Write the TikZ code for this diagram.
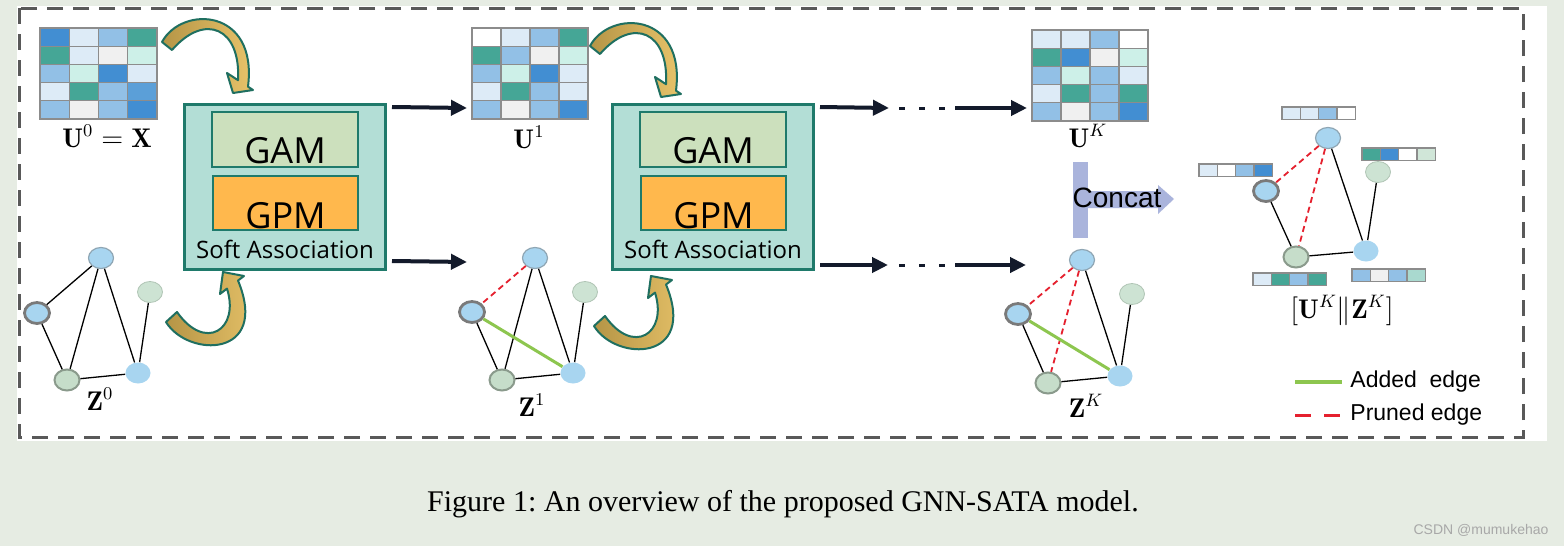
\documentclass[tikz,border=0pt]{standalone}
\usepackage{fontspec}
\usetikzlibrary{shapes.geometric,arrows.meta}
\newfontfamily\capfont{Liberation Serif}
\newfontfamily\arialfont{Liberation Sans}
\newfontfamily\safont{Open Sans}

\definecolor{bgc}{HTML}{E6ECE3}
\definecolor{framegrey}{HTML}{595959}
\definecolor{gridgrey}{HTML}{8C8C8C}
\definecolor{cdb}{HTML}{428ED2}
\definecolor{cdb2}{HTML}{5B9FD8}
\definecolor{cmb}{HTML}{92C0E6}
\definecolor{clb}{HTML}{DDEBF7}
\definecolor{ctl}{HTML}{45A696}
\definecolor{ccy}{HTML}{CDF0E8}
\definecolor{cgr}{HTML}{F0F0F0}
\definecolor{cwh}{HTML}{FFFFFF}
\definecolor{cpg}{HTML}{D0E6D8}
\definecolor{cpt}{HTML}{A9D9CF}
\definecolor{safill}{HTML}{B3DED6}
\definecolor{sateal}{HTML}{1F7A6B}
\definecolor{gamfill}{HTML}{CCE0BD}
\definecolor{gpmfill}{HTML}{FFB84D}
\definecolor{golddark}{HTML}{B59546}
\definecolor{goldlight}{HTML}{EBC66C}
\definecolor{arrowteal}{HTML}{1F6F60}
\definecolor{navy}{HTML}{131A2B}
\definecolor{concatc}{HTML}{AAB4DC}
\definecolor{nodeblue}{HTML}{A8D5F0}
\definecolor{nodeedge}{HTML}{8FA6B4}
\definecolor{boldedge}{HTML}{7A7A7A}
\definecolor{nodegreen}{HTML}{C6DDCA}
\definecolor{greenedge}{HTML}{8A9A8C}
\definecolor{nodepale}{HTML}{CDE3D3}
\definecolor{paleedge}{HTML}{AFC4B4}
\definecolor{addgreen}{HTML}{8DC64F}
\definecolor{prunered}{HTML}{E5202E}
\definecolor{wmgrey}{HTML}{A8A8A8}

\tikzset{
  cell/.style={draw=gridgrey, line width=0.6pt},
  outerframe/.style={draw=framegrey, line width=1.5pt, dash pattern=on 8pt off 5pt},
  sabox/.style={rectangle, draw=sateal, fill=safill, line width=1.5pt, minimum width=100.5pt, minimum height=82.5pt, inner sep=0},
  gambox/.style={rectangle, draw=sateal, fill=gamfill, line width=1.2pt, minimum width=73pt, inner sep=0, text height=25.5pt, text depth=2pt, font=\safont\fontsize{18}{20}\selectfont},
  gpmbox/.style={rectangle, draw=sateal, fill=gpmfill, line width=1.2pt, minimum width=72.5pt, inner sep=0, text height=26pt, text depth=1pt, font=\safont\fontsize{18}{20}\selectfont},
  satext/.style={anchor=base, inner sep=0, font=\safont\fontsize{12}{14}\selectfont},
  goldarrow/.style={draw=arrowteal, line width=1pt, line join=round, left color=golddark, right color=goldlight},
  flow/.style={draw=navy, line width=2pt, -{Triangle[length=8pt,width=7.5pt]}},
  dotsline/.style={draw=navy, line width=1.5pt, dash pattern=on 3pt off 7pt},
  gnode/.style={ellipse, minimum width=12.5pt, minimum height=10.5pt, inner sep=0},
  nblue/.style={gnode, fill=nodeblue, draw=nodeedge, line width=0.6pt},
  nbold/.style={gnode, fill=nodeblue, draw=boldedge, line width=1.4pt},
  ngreen/.style={gnode, fill=nodegreen, draw=greenedge, line width=1pt},
  nplain/.style={gnode, fill=nodeblue},
  npale/.style={gnode, fill=nodepale, draw=paleedge, line width=0.4pt},
  keptedge/.style={draw=black, line width=0.65pt},
  added/.style={draw=addgreen, line width=1.5pt},
  pruned/.style={draw=prunered, line width=0.9pt, dash pattern=on 3pt off 2pt},
  mathlbl/.style={anchor=base, inner sep=0, font=\fontsize{13.5}{16}\selectfont},
  legendtext/.style={anchor=west, inner sep=0, font=\arialfont\fontsize{11.5}{14}\selectfont},
}

\begin{document}
\begin{tikzpicture}[x=0.5pt,y=-0.5pt]
\useasboundingbox (0,0) rectangle (1564,546);
\fill[bgc] (0,0) rectangle (1564,546);
\fill[white] (17,6) rectangle (1547,441);
\draw[outerframe] (19,8) rectangle (1523,437);

% feature matrices
\foreach \cols [count=\r from 0] in {{cdb,clb,cmb,ctl},{ctl,clb,cgr,ccy},{cmb,ccy,cdb,clb},{clb,ctl,cmb,cdb2},{cmb,cgr,cmb,cdb}}
  \foreach \c [count=\i from 0] in \cols
    \filldraw[cell,fill=\c] (40+29.25*\i,28+18.2*\r) rectangle ++(29.25,18.2);
\foreach \cols [count=\r from 0] in {{cwh,clb,cmb,ctl},{ctl,cmb,cgr,ccy},{cmb,ccy,cdb,clb},{clb,ctl,cmb,clb},{cmb,cgr,cmb,cdb}}
  \foreach \c [count=\i from 0] in \cols
    \filldraw[cell,fill=\c] (472+29*\i,28+18.2*\r) rectangle ++(29,18.2);
\foreach \cols [count=\r from 0] in {{clb,clb,cmb,cwh},{ctl,cdb,cgr,ccy},{cmb,ccy,cmb,clb},{clb,ctl,cmb,ctl},{cmb,cgr,cmb,cdb}}
  \foreach \c [count=\i from 0] in \cols
    \filldraw[cell,fill=\c] (1032+29*\i,30+18.2*\r) rectangle ++(29,18.2);
\node[mathlbl] (u0l) at (107,147) {$\mathbf{U}^0=\mathbf{X}$};
\node[mathlbl] (u1l) at (529,148) {$\mathbf{U}^1$};
\node[mathlbl] (ukl) at (1088,147) {$\mathbf{U}^K$};

% soft association blocks
\foreach \i/\dx/\dy in {1/0/0,2/428/4}{
  \begin{scope}[shift={(\dx,0)}]
  \node[sabox] (sa\i) at (284.5,186.5) {};
  \node[gambox] (gam\i) at (285,139.5) {GAM};
  \node[gpmbox] (gpm\i) at (285.5,203) {GPM};
  \node[satext] (sat\i) at (285,258) {Soft Association};
  \end{scope}
  \begin{scope}[shift={(\dx,\dy)}]
  \draw[goldarrow] (162,42) .. controls (182,5) and (258,8) .. (248,86.7) -- (253,90) -- (233,93)
    -- (227,73) -- (238,80.2) .. controls (241,28) and (205,12) .. (172,50) -- cycle;
  \draw[goldarrow] (166,322) .. controls (188,358) and (270,358) .. (238,280.5) -- (244,276) -- (223,272)
    -- (220,294) -- (227,288.6) .. controls (240,330) and (205,352) .. (177,312) -- cycle;
  \end{scope}
}

% flow arrows
\coordinate (t1s) at (392,107);
\coordinate (t1e) at (467,108);
\coordinate (b1s) at (392,261);
\coordinate (b1e) at (467,262);
\coordinate (t2s) at (820,107);
\coordinate (t2e) at (889,108);
\coordinate (t3s) at (955,108);
\coordinate (t3e) at (1027,108);
\coordinate (b2s) at (820,265);
\coordinate (b2e) at (888,265);
\coordinate (b3s) at (955,265);
\coordinate (b3e) at (1026,265);
\draw[flow] (t1s) -- (t1e);
\draw[flow] (b1s) -- (b1e);
\draw[flow] (t2s) -- (t2e);
\draw[flow] (t3s) -- (t3e);
\draw[flow] (b2s) -- (b2e);
\draw[flow] (b3s) -- (b3e);
\draw[dotsline] (899,108) -- (947,108);
\draw[dotsline] (899,265) -- (947,265);

% graph Z0
\node[nblue] (z0a) at (101,258) {};
\node[nbold] (z0b) at (37,313) {};
\node[ngreen] (z0c) at (67,380) {};
\node[nplain] (z0d) at (138,373) {};
\node[npale] (z0e) at (150,292) {};
\draw[keptedge] (z0a) -- (z0b);
\draw[keptedge] (z0a) -- (z0c);
\draw[keptedge] (z0a) -- (z0d);
\draw[keptedge] (z0b) -- (z0c);
\draw[keptedge] (z0c) -- (z0d);
\draw[keptedge] (z0e) -- (z0d);
\node[mathlbl] (z0l) at (100,410) {$\mathbf{Z}^0$};

% graph Z1
\node[nblue] (z1a) at (535,258) {};
\node[nbold] (z1b) at (472,312) {};
\node[ngreen] (z1c) at (502,380) {};
\node[nplain] (z1d) at (573,373) {};
\node[npale] (z1e) at (585,292) {};
\draw[pruned] (z1a) -- (z1b);
\draw[keptedge] (z1a) -- (z1c);
\draw[keptedge] (z1a) -- (z1d);
\draw[keptedge] (z1b) -- (z1c);
\draw[keptedge] (z1c) -- (z1d);
\draw[keptedge] (z1e) -- (z1d);
\draw[added] (z1b) -- (z1d);
\node[mathlbl] (z1l) at (532,416) {$\mathbf{Z}^1$};

% graph ZK
\node[nblue] (zka) at (1082,260) {};
\node[nbold] (zkb) at (1018,314) {};
\node[ngreen] (zkc) at (1048,383) {};
\node[nplain] (zkd) at (1120,376) {};
\node[npale] (zke) at (1132,294) {};
\draw[pruned] (zka) -- (zkb);
\draw[pruned] (zka) -- (zkc);
\draw[keptedge] (zka) -- (zkd);
\draw[keptedge] (zkb) -- (zkc);
\draw[keptedge] (zkc) -- (zkd);
\draw[keptedge] (zke) -- (zkd);
\draw[added] (zkb) -- (zkd);
\node[mathlbl] (zkl) at (1086,417) {$\mathbf{Z}^K$};

% concat
\fill[concatc] (1073,162) rectangle (1088,238);
\fill[concatc] (1088,191) -- (1158,191) -- (1158,185) -- (1174,199) -- (1158,214) -- (1158,208) -- (1088,208) -- cycle;
\node[anchor=base, inner sep=0, font=\arialfont\fontsize{14}{16}\selectfont] (concat) at (1117,207) {Concat};

% concatenated graph
\foreach \vx/\vy/\cols in {1282/107/{clb,clb,cmb,cwh},1362/148/{ctl,cdb,cwh,cpg},1199/164/{clb,cwh,cmb,cdb},1253/273/{clb,ctl,cmb,ctl},1352/269/{cmb,cgr,cmb,cpt}}
  \foreach \c [count=\i from 0] in \cols
    \filldraw[cell,fill=\c] (\vx+18.3*\i,\vy) rectangle ++(18.3,12.5);
\node[nblue] (fa) at (1328,138) {};
\node[nbold] (fb) at (1266,191) {};
\node[ngreen] (fc) at (1296,257) {};
\node[nplain] (fd) at (1366,251) {};
\node[npale] (fe) at (1378,172) {};
\draw[pruned] (fa) -- (fb);
\draw[pruned] (fa) -- (fc);
\draw[keptedge] (fa) -- (fd);
\draw[keptedge] (fb) -- (fc);
\draw[keptedge] (fc) -- (fd);
\draw[keptedge] (fe) -- (fd);
\node[mathlbl] (fl) at (1342,318) {$[\mathbf{U}^K\|\mathbf{Z}^K]$};

% legend
\draw[added, line width=2pt] (1295,382) -- (1342,382);
\draw[draw=prunered, line width=1.5pt, dash pattern=on 8pt off 6.5pt] (1295,415) -- (1342,415);
\node[legendtext] (lgadd) at (1350,382) {Added\ \ edge};
\node[legendtext] (lgpru) at (1350,415) {Pruned edge};

% caption
\node[anchor=base, inner sep=0, font=\capfont\fontsize{15}{18}\selectfont] (cap) at (783,511) {\frenchspacing Figure 1: An overview of the proposed GNN-SATA model.};
\node[anchor=base, inner sep=0, text=wmgrey, font=\arialfont\fontsize{7}{8}\selectfont] (wmark) at (1481,534) {CSDN @mumukehao};
\end{tikzpicture}
\end{document}
